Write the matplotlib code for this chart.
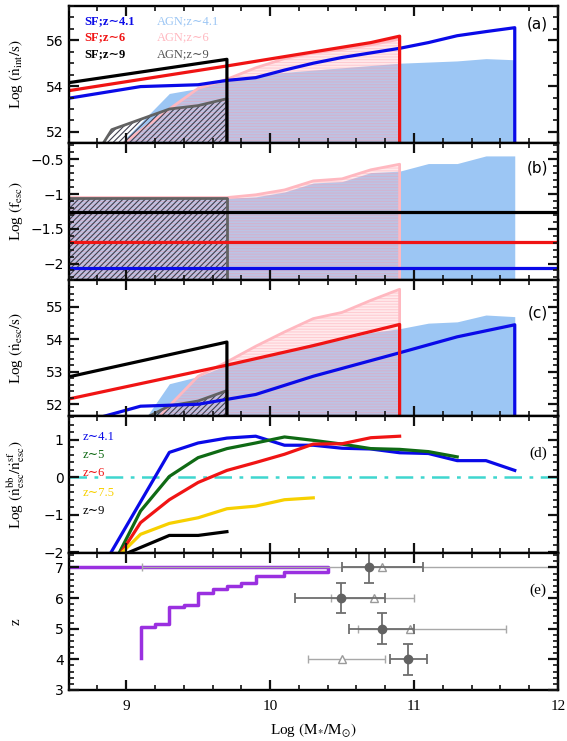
import numpy as np
import matplotlib
matplotlib.use("Agg")
import matplotlib.pyplot as plt
from matplotlib.ticker import MultipleLocator, FuncFormatter

plt.rcParams['mathtext.fontset'] = 'stix'
plt.rcParams['hatch.linewidth'] = 0.8

# ---------------- data ----------------
# panel (a): log intrinsic ionizing photon rate
sf41_x = [8.6, 9.1, 9.5, 9.7, 9.9, 10.1, 10.3, 10.5, 10.7, 10.9, 11.1, 11.3, 11.5, 11.7]
sf41_a = [53.47, 53.98, 54.06, 54.25, 54.37, 54.7, 55.0, 55.25, 55.45, 55.65, 55.9, 56.2, 56.38, 56.55]
sf6_x = [8.6, 9.7, 10.7, 10.9]
sf6_a = [53.8, 54.88, 55.9, 56.18]
sf9_x = [8.6, 9.7]
sf9_a = [54.15, 55.17]

agn41_x = [8.96, 9.3, 9.5, 9.7, 9.9, 10.1, 10.3, 10.5, 10.7, 10.9, 11.1, 11.3, 11.5, 11.7]
agn41_a = [51.5, 53.68, 53.9, 54.25, 54.45, 54.6, 54.7, 54.8, 54.9, 55.0, 55.05, 55.1, 55.2, 55.15]
agn6_x = [8.98, 9.3, 9.5, 9.7, 9.9, 10.1, 10.3, 10.5, 10.7, 10.9]
agn6_a = [51.5, 53.0, 53.9, 54.3, 54.8, 55.2, 55.45, 55.6, 55.8, 56.05]
agn9_x = [8.84, 8.9, 9.3, 9.5, 9.7]
agn9_a = [51.5, 52.1, 53.0, 53.15, 53.45]

# panel (b): log escape fraction
fesc_sf41, fesc_sf6, fesc_sf9 = -2.065, -1.69, -1.265
agn41_bx = [8.6, 9.7, 9.9, 10.1, 10.3, 10.5, 10.7, 10.9, 11.1, 11.3, 11.5, 11.7]
agn41_b = [-1.06, -1.06, -1.04, -0.97, -0.84, -0.82, -0.69, -0.67, -0.56, -0.56, -0.45, -0.45]
agn6_bx = [8.6, 9.7, 9.9, 10.1, 10.3, 10.5, 10.7, 10.9]
agn6_b = [-1.05, -1.05, -1.01, -0.94, -0.81, -0.78, -0.65, -0.57]
agn9_bx = [8.6, 9.7]
agn9_b = [-1.055, -1.055]

# panel (c): log escaping photon rate
sf41_cx = [8.78, 9.1, 9.5, 9.9, 10.3, 10.9, 11.3, 11.7]
sf41_c = [51.55, 51.94, 52.0, 52.3, 52.86, 53.58, 54.07, 54.44]
sf6_cx = [8.6, 9.7, 10.3, 10.9]
sf6_c = [52.16, 53.2, 53.8, 54.45]
sf9_cx = [8.6, 9.7]
sf9_c = [52.84, 53.91]
agn41_c = [50.45, 52.63, 52.85, 53.2, 53.4, 53.63, 53.87, 53.98, 54.2, 54.32, 54.49, 54.53, 54.74, 54.69]
agn6_c = [50.45, 51.95, 52.86, 53.3, 53.78, 54.22, 54.63, 54.82, 55.19, 55.53]
agn9_c = [50.45, 51.05, 51.95, 52.1, 52.42]

# panel (d): log ratio of bb to sf escaping photons
d_labels = ['z\u223c4.1', 'z\u223c5', 'z\u223c6', 'z\u223c7.5', 'z\u223c9']
d_colors = ['#0a0ae8', '#0f6a14', '#f01414', '#f7d000', 'black']
d_x = [
    [8.88, 9.3, 9.5, 9.7, 9.9, 10.1, 10.3, 10.5, 10.7, 10.9, 11.1, 11.3, 11.5, 11.7],
    [8.94, 9.1, 9.3, 9.5, 9.7, 9.9, 10.1, 10.3, 10.5, 10.7, 10.9, 11.1, 11.3],
    [8.95, 9.1, 9.3, 9.5, 9.7, 9.9, 10.1, 10.3, 10.5, 10.7, 10.9],
    [8.96, 9.1, 9.3, 9.5, 9.7, 9.9, 10.1, 10.3],
    [8.97, 9.3, 9.5, 9.7],
]
d_y = [
    [-2.1, 0.66, 0.91, 1.04, 1.09, 0.85, 0.85, 0.77, 0.75, 0.65, 0.63, 0.44, 0.44, 0.18],
    [-2.1, -0.9, 0.02, 0.52, 0.76, 0.91, 1.07, 0.98, 0.88, 0.76, 0.74, 0.68, 0.54],
    [-2.1, -1.21, -0.6, -0.14, 0.18, 0.39, 0.61, 0.88, 0.89, 1.05, 1.09],
    [-2.05, -1.52, -1.23, -1.08, -0.84, -0.77, -0.6, -0.55],
    [-2.08, -1.55, -1.55, -1.45],
]

# panel (e): redshift vs mass limit and observed points
step_x = [9.1, 9.1, 9.2, 9.3, 9.4, 9.5, 9.6, 9.7, 9.8, 9.9, 10.1, 10.4, 8.6]
step_z = [4.04, 5.07, 5.14, 5.71, 5.78, 6.16, 6.29, 6.38, 6.49, 6.73, 6.85, 7.0, 7.0]
circ_x = [10.96, 10.78, 10.49, 10.69]
circ_z = [4, 5, 6, 7]
circ_xlo = [10.83, 10.55, 10.17, 10.50]
circ_xhi = [11.09, 11.00, 10.80, 11.06]
circ_zerr = [0.5, 0.5, 0.5, 0.5]
tri_x = [10.50, 10.97, 10.72, 10.78]
tri_z = [4, 5, 6, 7]
tri_xlo = [10.26, 10.61, 10.42, 9.11]
tri_xhi = [10.80, 11.64, 11.00, 13.0]

BLUE, RED = '#0a0ae8', '#f01414'
LBLUE, PINK, GRAY = '#9cc6f4', '#ffb8c0', '#626262'
SERIF = ['Liberation Serif', 'DejaVu Serif']

ylims = [(51.53, 57.5), (-2.23, -0.26), (51.63, 55.83), (-2.02, 1.62), (3.0, 7.47)]
ymaj = [2, 0.5, 1, 1, 1]
ymin = [0.5, 0.1, 0.2, 0.2, 0.2]
ylabels = [r'Log $(\dot{\rm n}_{\rm int}/{\rm s})$', r'Log $({\rm f}_{\rm esc})$',
           r'Log $(\dot{\rm n}_{\rm esc}/{\rm s})$',
           r'Log $(\dot{\rm n}^{\rm bb}_{\rm esc}/\dot{\rm n}^{\rm sf}_{\rm esc})$', 'z']

# ---------------- axes and ticks ----------------
fig = plt.figure(figsize=(5.67, 7.41), dpi=100)
gs = fig.add_gridspec(5, 1, left=0.121, right=0.984, top=0.992, bottom=0.069, hspace=0)
axs = [fig.add_subplot(gs[i]) for i in range(5)]
fmt = FuncFormatter(lambda v, p: ('%g' % v).replace('-', '\u2212'))
for i, ax in enumerate(axs):
    ax.set_xlim(8.6, 12)
    ax.set_ylim(*ylims[i])
    ax.xaxis.set_major_locator(MultipleLocator(1))
    ax.xaxis.set_minor_locator(MultipleLocator(0.2))
    ax.yaxis.set_major_locator(MultipleLocator(ymaj[i]))
    ax.yaxis.set_minor_locator(MultipleLocator(ymin[i]))
    ax.yaxis.set_major_formatter(fmt)
    ax.tick_params(which='both', direction='in', top=True, right=True, color='#111111')
    ax.tick_params(which='major', length=7, width=1.6)
    ax.tick_params(which='minor', length=3.5, width=1.2)
    ax.tick_params(axis='y', labelsize=10, labelfontfamily='DejaVu Sans')
    for s in ax.spines.values():
        s.set_linewidth(1.7)
    if i < 4:
        ax.tick_params(axis='x', labelbottom=False)
    ax.xaxis.set_zorder(6)
    ax.yaxis.set_zorder(6)

# y-axis titles, centred on each panel
tops, bots = [], []
b_, t_, _, _ = gs.get_grid_positions(fig)
for i in range(5):
    fig.text(0.028, (b_[i] + t_[i]) / 2, ylabels[i], rotation=90, ha='center',
             va='center', fontsize=11, family=SERIF)


def agn_fills(ax, bx, by, px, py, gx, gy, ybot):
    ax.fill_between(bx, ybot, by, color=LBLUE, lw=0, zorder=1)
    ax.fill_between(px, ybot, py, facecolor='#ffc0c8', edgecolor='#ff8fa0', hatch='------',
                    lw=0, alpha=0.33, zorder=1.2)
    ax.plot(px + [px[-1]], py + [ybot], color=PINK, lw=2, zorder=1.5)
    ax.fill_between(gx, ybot, gy, facecolor='none', edgecolor='#404050', hatch='//////',
                    lw=0, zorder=1.7)
    ax.plot(gx + [gx[-1]], gy + [ybot], color=GRAY, lw=2, zorder=1.9)


def drop_line(ax, x, y, ybot, c):
    ax.plot(x + [x[-1]], y + [ybot], color=c, lw=2.3, zorder=2.2)


# (a)
ax = axs[0]
yb = ylims[0][0] - 1
agn_fills(ax, agn41_x, agn41_a, agn6_x, agn6_a, agn9_x, agn9_a, yb)
drop_line(ax, sf41_x, sf41_a, yb, BLUE)
drop_line(ax, sf6_x, sf6_a, yb, RED)
drop_line(ax, sf9_x, sf9_a, yb, 'black')
for txt, yy, c in zip(['SF;z\u223c4.1', 'SF;z\u223c6', 'SF;z\u223c9'], [56.84, 56.12, 55.41],
                      [BLUE, RED, 'black']):
    ax.text(8.71, yy, txt, color=c, fontsize=9, family=SERIF, va='center', fontweight='bold')
for txt, yy, c in zip(['AGN;z\u223c4.1', 'AGN;z\u223c6', 'AGN;z\u223c9'], [56.84, 56.12, 55.41],
                      [LBLUE, PINK, '#555555']):
    ax.text(9.21, yy, txt, color=c, fontsize=9, family=SERIF, va='center')
ax.text(11.86, 56.7, '(a)', fontsize=11, ha='center', va='center')

# (b)
ax = axs[1]
yb = ylims[1][0] - 1
agn_fills(ax, agn41_bx, agn41_b, agn6_bx, agn6_b, agn9_bx, agn9_b, yb)
ax.axhline(fesc_sf9, color='black', lw=2.3, zorder=2.2)
ax.axhline(fesc_sf6, color=RED, lw=2.3, zorder=2.2)
ax.axhline(fesc_sf41, color=BLUE, lw=2.3, zorder=2.2)
ax.text(11.86, -0.62, '(b)', fontsize=11, ha='center', va='center')

# (c)
ax = axs[2]
yb = ylims[2][0] - 1
agn_fills(ax, agn41_x, agn41_c, agn6_x, agn6_c, agn9_x, agn9_c, yb)
drop_line(ax, sf41_cx, sf41_c, yb, BLUE)
drop_line(ax, sf6_cx, sf6_c, yb, RED)
drop_line(ax, sf9_cx, sf9_c, yb, 'black')
ax.text(11.86, 54.8, '(c)', fontsize=11, ha='center', va='center')

# (d)
ax = axs[3]
ax.axhline(0, color='#3fd6cf', lw=1.8, ls=(0, (7, 3, 1.5, 3)), zorder=1)
for xs, ys, c in zip(d_x, d_y, d_colors):
    ax.plot(xs, ys, color=c, lw=2.3, zorder=2.2)
for txt, yy, c in zip(d_labels, [1.07, 0.59, 0.1, -0.41, -0.91], d_colors):
    ax.text(8.70, yy, txt, color=c, fontsize=9, family=SERIF, va='center')
ax.text(11.86, 0.63, '(d)', fontsize=11, family=SERIF, ha='center', va='center')

# (e)
ax = axs[4]
ax.plot(step_x, step_z, drawstyle='steps-post', color='#9a30e0', lw=2.5, zorder=2)
tx = np.array(tri_x)
ax.errorbar(tri_x, tri_z, xerr=[tx - np.array(tri_xlo), np.array(tri_xhi) - tx], fmt='^',
            mfc='white', mec='#9a9a9a', ms=5.5, mew=1, ecolor='#a8a8a8', elinewidth=1,
            capsize=3, capthick=1, zorder=2.1)
cx = np.array(circ_x)
ax.errorbar(circ_x, circ_z, xerr=[cx - np.array(circ_xlo), np.array(circ_xhi) - cx],
            yerr=circ_zerr, fmt='o', color='#626262', ms=6, ecolor='#6e6e6e',
            elinewidth=1.3, capsize=3.5, capthick=1.3, zorder=2.2)
ax.text(11.86, 6.27, '(e)', fontsize=11, family=SERIF, ha='center', va='center')
ax.set_xticks([9, 10, 11, 12])
ax.tick_params(axis='x', labelsize=11, labelfontfamily='Liberation Serif', pad=7)
ax.set_xlabel(r'Log $({\rm M}_{*}/{\rm M}_{\odot})$', fontsize=11, family=SERIF, labelpad=6)

fig.savefig('out.png', dpi=100)
